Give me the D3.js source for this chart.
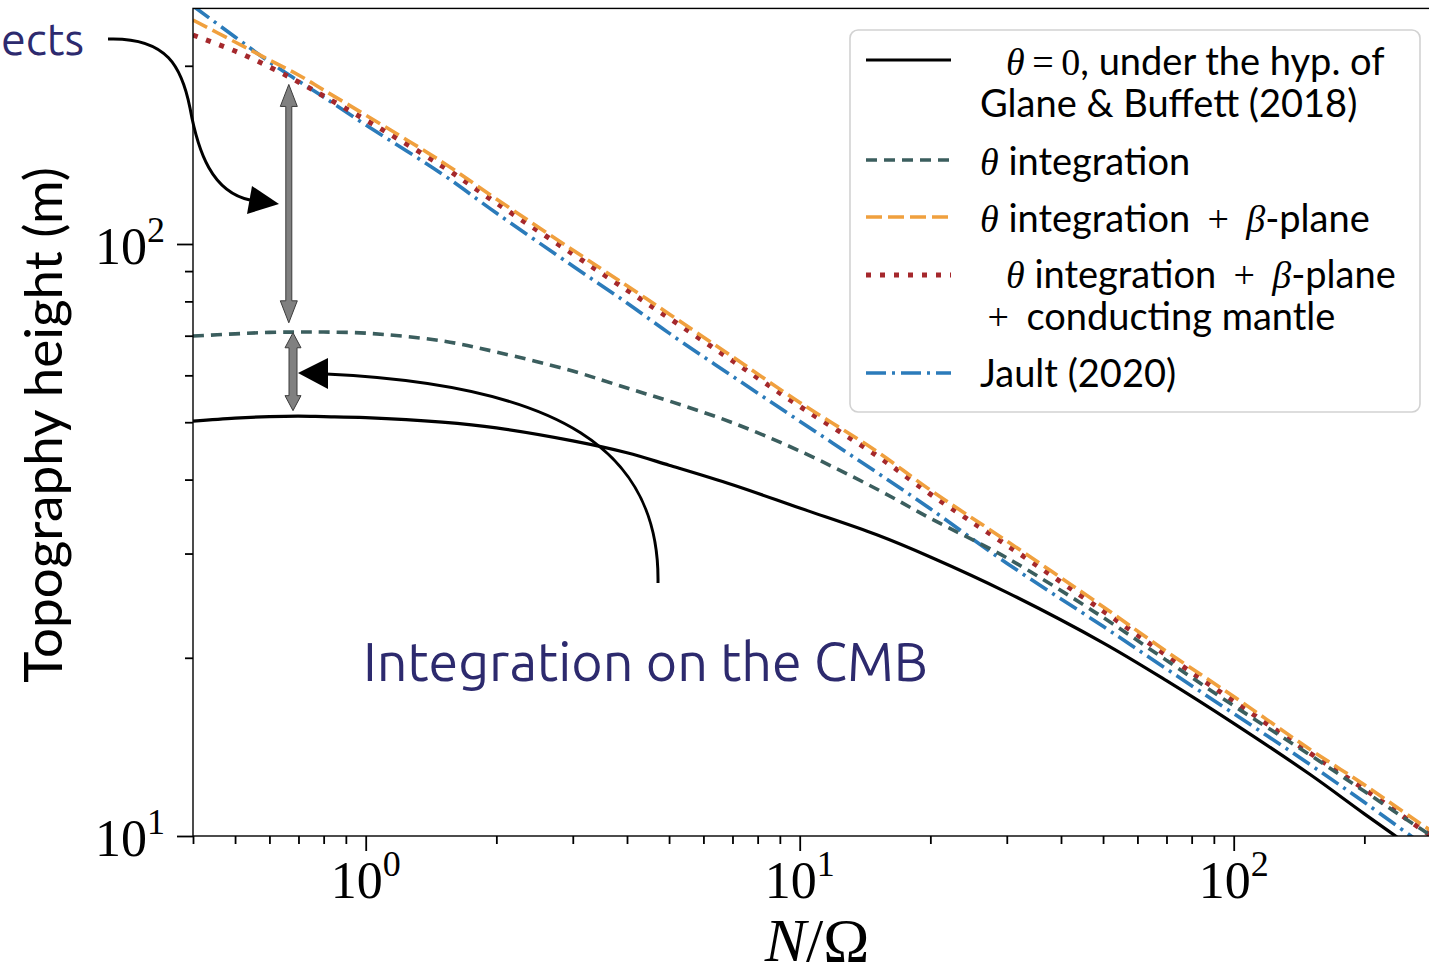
<!DOCTYPE html>
<html>
<head>
<meta charset="utf-8">
<script src="https://cdn.jsdelivr.net/npm/d3@7"></script>
<style>
  html, body { margin: 0; padding: 0; background: #fff; overflow: hidden; }
  text { white-space: pre; }
</style>
</head>
<body>
<svg id="chart" width="1429" height="973"></svg>
<script>
// N/Omega sample points
const nOverOmega = [0.4, 0.5, 0.6, 0.7, 0.8, 1, 1.5, 2, 3, 4, 5, 7, 10, 15, 20, 30, 50, 70, 100, 150, 200, 280, 300];
// Topography height (m) for each model
const thetaZeroGB   = [50.2, 50.8, 51.1, 51.2, 51.1, 50.9, 50.0, 48.9, 46.5, 44.4, 42.3, 39.2, 35.8, 32.3, 29.6, 25.8, 21.2, 18.3, 15.5, 12.7, 10.9, 9.15, 8.83];
const thetaInteg    = [69.9, 70.5, 70.9, 71.0, 71.0, 70.7, 68.6, 65.7, 61.0, 57.1, 54.3, 49.9, 44.7, 38.6, 34.4, 29.5, 23.4, 19.8, 16.6, 13.7, 11.9, 10.1, 9.8];
const thetaBeta     = [238.9, 219.4, 204.6, 193.0, 182.0, 165.1, 137.6, 119.1, 97.7, 85.0, 76.2, 64.5, 54.0, 44.7, 38.4, 31.5, 24.4, 20.5, 17.2, 14.0, 12.2, 10.3, 10.0];
const thetaBetaCond = [225.4, 211.8, 199.1, 187.8, 177.8, 162.0, 135.4, 117.3, 96.2, 83.6, 75.0, 63.5, 53.2, 44.0, 37.8, 31.0, 24.0, 20.2, 16.9, 13.8, 12.0, 10.1, 9.8];
const jault2020     = [252.4, 223.7, 203.0, 188.5, 177.1, 158.9, 131.3, 112.8, 91.8, 79.5, 70.7, 59.8, 50.2, 41.2, 35.7, 28.9, 22.6, 19.15, 16.1, 13.2, 11.4, 9.54, 9.22];

// Legend labels ($...$ marks math-mode pieces)
const seriesNames = [
  ["$θ = 0$, under the hyp. of", "Glane & Buffett (2018)"],
  ["$θ$ integration"],
  ["$θ$ integration $+$ $β$-plane"],
  ["$θ$ integration $+$ $β$-plane", "$+$ conducting mantle"],
  ["Jault (2020)"]
];

// Axis ticks
const xMajor = [1, 10, 100];
const xMinor = [0.4, 0.5, 0.6, 0.7, 0.8, 0.9, 2, 3, 4, 5, 6, 7, 8, 9, 20, 30, 40, 50, 60, 70, 80, 90, 200, 300];
const yMajor = [10, 100];
const yMinor = [20, 30, 40, 50, 60, 70, 80, 90, 200];
const xTickExp = ["0", "1", "2"];
const yTickExp = ["1", "2"];

// Gap markers at low N/Omega: [N/Omega, top, bottom]
const gapBeta = [0.665, 186, 73.6];
const gapInteg = [0.68, 70.8, 52.3];

const annotationTop = "ects";
const annotationBottom = "Integration on the CMB";

const svg = d3.select("#chart");
const W = 1429, H = 973;
const L = 193, B = 836;

const x = d3.scaleLog().domain([0.4, 300]).range([L, L + 434 * Math.log10(300 / 0.4)]);
const y = d3.scaleLog().domain([10, 250]).range([B, B - 592 * Math.log10(25)]);
const R = x.range()[1];
const T = y.range()[1];

const series = [
  { vals: thetaZeroGB,   color: "#000000", dash: null,       width: 3.2 },
  { vals: thetaInteg,    color: "#3b5e5e", dash: "11,7",     width: 3.6 },
  { vals: thetaBeta,     color: "#f0a03e", dash: "16,6",     width: 3.6 },
  { vals: thetaBetaCond, color: "#a5282c", dash: "5,9",      width: 5.0 },
  { vals: jault2020,     color: "#2b7bba", dash: "20,6,3,6", width: 3.6 }
];

svg.append("rect").attr("width", W).attr("height", H).attr("fill", "#fff");

svg.append("defs").append("clipPath").attr("id", "plotClip")
  .append("rect").attr("x", L).attr("y", T).attr("width", R - L).attr("height", B - T);

// Curves
const line = d3.line().x(d => x(d[0])).y(d => y(d[1])).curve(d3.curveCatmullRom.alpha(0.5));
const plot = svg.append("g").attr("clip-path", "url(#plotClip)");
series.slice().reverse().forEach(s => {
  plot.append("path")
    .datum(nOverOmega.map((v, i) => [v, s.vals[i]]))
    .attr("d", line)
    .attr("fill", "none")
    .attr("stroke", s.color)
    .attr("stroke-width", s.width)
    .attr("stroke-dasharray", s.dash);
});

// Frame
svg.append("rect").attr("x", L).attr("y", T).attr("width", R - L).attr("height", B - T)
  .attr("fill", "none").attr("stroke", "#000").attr("stroke-width", 1.4);

// Axes
function styleAxis(g) {
  g.select(".domain").remove();
  g.selectAll(".tick line").attr("stroke", "#000").attr("stroke-width", 1.8);
  g.selectAll(".tick text").remove();
}
svg.append("g").attr("transform", `translate(0,${B})`)
  .call(d3.axisBottom(x).tickValues(xMajor).tickSize(15).tickFormat(() => "")).call(styleAxis);
svg.append("g").attr("transform", `translate(0,${B})`)
  .call(d3.axisBottom(x).tickValues(xMinor).tickSize(8).tickFormat(() => "")).call(styleAxis);
svg.append("g").attr("transform", `translate(${L},0)`)
  .call(d3.axisLeft(y).tickValues(yMajor).tickSize(16).tickFormat(() => "")).call(styleAxis);
svg.append("g").attr("transform", `translate(${L},0)`)
  .call(d3.axisLeft(y).tickValues(yMinor).tickSize(8).tickFormat(() => "")).call(styleAxis);

const serif = "'Liberation Serif', 'DejaVu Serif', serif";
const sans = "Lato, 'Open Sans', 'DejaVu Sans', sans-serif";

// Tick labels 10^n
xMajor.forEach((v, i) => {
  const t = svg.append("text").attr("x", x(v)).attr("y", B + 62)
    .attr("text-anchor", "middle").attr("font-family", serif).attr("font-size", 52).attr("fill", "#000");
  t.append("tspan").text("10");
  t.append("tspan").attr("dy", -22).attr("font-size", 36).text(xTickExp[i]);
});
yMajor.forEach((v, i) => {
  const t = svg.append("text").attr("x", L - 28).attr("y", y(v) + 20)
    .attr("text-anchor", "end").attr("font-family", serif).attr("font-size", 52).attr("fill", "#000");
  t.append("tspan").text("10");
  t.append("tspan").attr("dy", -22).attr("font-size", 36).text(yTickExp[i]);
});

// Axis titles
const xt = svg.append("text").attr("x", 817).attr("y", 961).attr("text-anchor", "middle")
  .attr("font-family", serif).attr("font-size", 62).attr("fill", "#000");
xt.append("tspan").attr("font-style", "italic").text("N");
xt.append("tspan").text("/Ω");

svg.append("text").attr("transform", "translate(62,425) rotate(-90)")
  .attr("text-anchor", "middle").attr("font-family", sans).attr("font-size", 53).attr("fill", "#000")
  .text("Topography height (m)");

// Legend
const lg = svg.append("g");
lg.append("rect").attr("x", 850).attr("y", 30).attr("width", 570).attr("height", 382).attr("rx", 8)
  .attr("fill", "#fff").attr("fill-opacity", 0.85).attr("stroke", "#d2d2d2").attr("stroke-width", 1.6);

const legendSampleY = [60, 160, 217, 275, 373];
const legendBaselines = [[75, 117], [175], [232], [288, 330], [387]];

// One <text> per entry; each line is a run of tspans, math pieces in serif
function legendText(g, lines, xPos, baselines, size) {
  const t = g.append("text").attr("x", xPos).attr("y", baselines[0]).attr("font-size", size)
    .attr("font-family", sans).attr("fill", "#000");
  lines.forEach((str, j) => {
    const indent = (lines.length > 1 && j === 0) ? 26 : 0;
    let first = true;
    str.split("$").forEach((part, k) => {
      if (!part) return;
      const pieces = (k % 2 === 0) ? [{ s: part, math: false }]
        : part.split(/([θβ=+])/).filter(p => p.trim()).map(p => ({ s: p.trim(), math: true }));
      pieces.forEach(pc => {
        const op = pc.math && (pc.s === "=" || pc.s === "+");
        const pad = pc.s === "=" ? "\u2009" : "\u2009";
        const ts = t.append("tspan").text(op ? pad + pc.s + pad : pc.s);
        if (first) {
          ts.attr("x", xPos + indent);
          if (j > 0) ts.attr("y", baselines[j]);
          first = false;
        }
        if (pc.math) {
          ts.attr("font-family", serif);
          if (pc.s === "θ" || pc.s === "β") ts.attr("font-style", "italic");
        }
      });
    });
  });
  return t;
}

series.forEach((s, i) => {
  lg.append("line").attr("x1", 866).attr("x2", 951)
    .attr("y1", legendSampleY[i]).attr("y2", legendSampleY[i])
    .attr("stroke", s.color).attr("stroke-width", s.width)
    .attr("stroke-dasharray", s.dash);
  legendText(lg, seriesNames[i], 980, legendBaselines[i], 38);
});

// Gap markers (grey double arrows)
function doubleArrow(xPix, y1, y2, w, hw, hl) {
  const pts = [
    [xPix, y1], [xPix + hw / 2, y1 + hl], [xPix + w / 2, y1 + hl], [xPix + w / 2, y2 - hl],
    [xPix + hw / 2, y2 - hl], [xPix, y2], [xPix - hw / 2, y2 - hl], [xPix - w / 2, y2 - hl],
    [xPix - w / 2, y1 + hl], [xPix - hw / 2, y1 + hl]
  ];
  svg.append("polygon").attr("points", pts.map(p => p.join(",")).join(" "))
    .attr("fill", "#808080").attr("stroke", "#3c3c3c").attr("stroke-width", 1);
}
doubleArrow(x(gapBeta[0]), y(gapBeta[1]), y(gapBeta[2]), 6, 17, 22);
doubleArrow(x(gapInteg[0]), y(gapInteg[1]), y(gapInteg[2]), 8, 16, 15);

// Curved callout arrows
svg.append("path")
  .attr("d", "M108,39 C168,37 182,68 190,108 C198,152 212,192 250,200")
  .attr("fill", "none").attr("stroke", "#000").attr("stroke-width", 3);
svg.append("polygon").attr("points", "279,204 252,186 247,214").attr("fill", "#000");

svg.append("path")
  .attr("d", "M658,583 C660,450 560,385 326,374")
  .attr("fill", "none").attr("stroke", "#000").attr("stroke-width", 3);
svg.append("polygon").attr("points", "298,373 328,358 328,389").attr("fill", "#000");

// Callout texts
const callFont = "Ubuntu, 'Open Sans', 'Noto Sans', sans-serif";
const ib = svg.append("text").attr("x", 363).attr("y", 681)
  .attr("font-family", callFont).attr("font-size", 50).attr("fill", "#2d2a6e").text(annotationBottom);
const calloutSize = 50 * 565 / ib.node().getComputedTextLength();
ib.attr("font-size", calloutSize);
const et = svg.append("text").attr("x", 1).attr("y", 55)
  .attr("font-family", callFont).attr("font-size", calloutSize).attr("fill", "#2d2a6e").text(annotationTop);
et.attr("font-size", calloutSize * 83 / et.node().getComputedTextLength());
</script>
</body>
</html>
